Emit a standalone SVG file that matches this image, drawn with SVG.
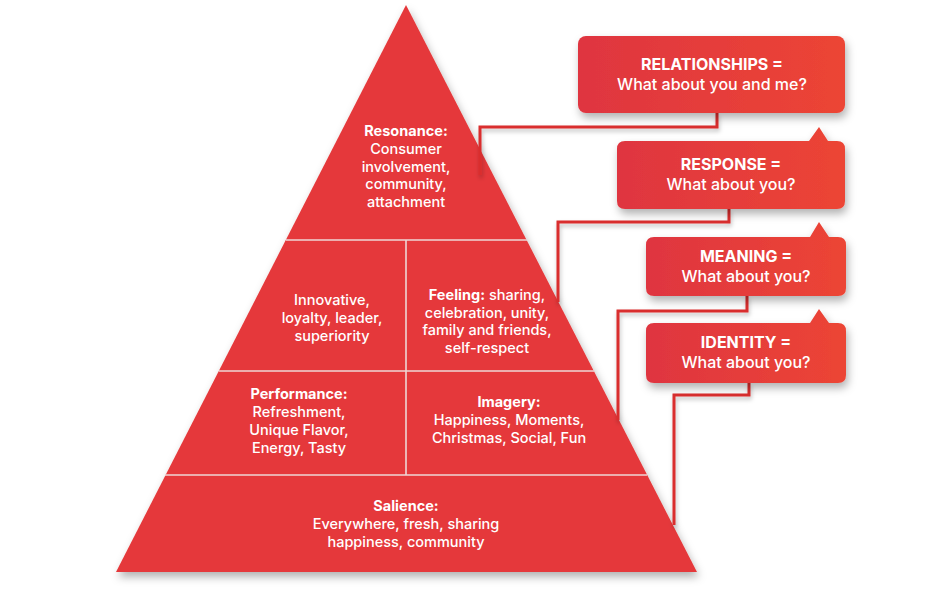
<svg xmlns="http://www.w3.org/2000/svg" width="927" height="593" viewBox="0 0 927 593">
  <defs>
    <filter id="shadow" x="-10%" y="-10%" width="130%" height="130%">
      <feDropShadow dx="2" dy="5" stdDeviation="4" flood-color="#000" flood-opacity="0.3"/>
    </filter>
    <filter id="lshadow" x="-20%" y="-20%" width="140%" height="140%">
      <feDropShadow dx="1" dy="3" stdDeviation="2" flood-color="#000" flood-opacity="0.25"/>
    </filter>
    <linearGradient id="boxgrad" x1="0" y1="0" x2="1" y2="0">
      <stop offset="0" stop-color="#df3540"/>
      <stop offset="1" stop-color="#ec4535"/>
    </linearGradient>
  </defs>
  <style>
    .pyr { fill: #e5393a; }
    .div { stroke: #eed6d6; stroke-width: 1.6; fill: none; }
    .box { fill: url(#boxgrad); filter: url(#shadow); }
    .conn { stroke: #d92f2f; stroke-width: 3; fill: none; filter: url(#lshadow); }
    text { font-family: Inter, "Noto Sans", "Liberation Sans", sans-serif; fill: #ffffff; text-anchor: middle; }
    .t { font-size: 14.5px; font-weight: 500; }
    .b { font-weight: 700; }
    .bt { font-size: 16px; font-weight: 700; }
    .bs { font-size: 16px; font-weight: 500; }
  </style>

  <g id="pyramid">
    <polygon class="pyr" points="406,5 697,572 116,572" filter="url(#shadow)"/>
    <line class="div" x1="286" y1="240" x2="527" y2="240"/>
    <line class="div" x1="219" y1="371" x2="594" y2="371"/>
    <line class="div" x1="165" y1="475" x2="647" y2="475"/>
    <line class="div" x1="406" y1="240" x2="406" y2="475"/>
  </g>

  <g id="connectors">
    <polyline class="conn" points="717,113 717,127 480,127 480,175"/>
    <polyline class="conn" points="729,209 729,222 558,222 558,302"/>
    <polyline class="conn" points="747,296 747,311 618,311 618,420"/>
    <polyline class="conn" points="749,383 749,395 674,395 674,525"/>
  </g>

  <g id="resonance">
    <text class="t" x="406" y="136"><tspan class="b">Resonance:</tspan></text>
    <text class="t" x="406" y="154">Consumer</text>
    <text class="t" x="406" y="172">involvement,</text>
    <text class="t" x="406" y="189">community,</text>
    <text class="t" x="406" y="207">attachment</text>
  </g>

  <g id="judgments">
    <text class="t" x="332" y="305">Innovative,</text>
    <text class="t" x="332" y="323">loyalty, leader,</text>
    <text class="t" x="332" y="341">superiority</text>
  </g>

  <g id="feelings">
    <text class="t" x="487" y="300"><tspan class="b">Feeling:</tspan> sharing,</text>
    <text class="t" x="487" y="318">celebration, unity,</text>
    <text class="t" x="487" y="335">family and friends,</text>
    <text class="t" x="487" y="353">self-respect</text>
  </g>

  <g id="performance">
    <text class="t" x="299" y="399"><tspan class="b">Performance:</tspan></text>
    <text class="t" x="299" y="417">Refreshment,</text>
    <text class="t" x="299" y="435">Unique Flavor,</text>
    <text class="t" x="299" y="453">Energy, Tasty</text>
  </g>

  <g id="imagery">
    <text class="t" x="509" y="407"><tspan class="b">Imagery:</tspan></text>
    <text class="t" x="509" y="425">Happiness, Moments,</text>
    <text class="t" x="509" y="443">Christmas, Social, Fun</text>
  </g>

  <g id="salience">
    <text class="t" x="406" y="511"><tspan class="b">Salience:</tspan></text>
    <text class="t" x="406" y="529">Everywhere, fresh, sharing</text>
    <text class="t" x="406" y="547">happiness, community</text>
  </g>

  <g id="relationships">
    <rect class="box" x="578" y="36" width="267" height="77" rx="8"/>
    <text class="bt" x="712" y="70">RELATIONSHIPS =</text>
    <text class="bs" x="712" y="90">What about you and me?</text>
  </g>

  <g id="response">
    <path class="box" d="M625,141 H809 L819,127 L828,141 H837 Q845,141 845,149 V201 Q845,209 837,209 H625 Q617,209 617,201 V149 Q617,141 625,141 Z"/>
    <text class="bt" x="731" y="170">RESPONSE =</text>
    <text class="bs" x="731" y="190">What about you?</text>
  </g>

  <g id="meaning">
    <path class="box" d="M654,237 H810 L819,222 L829,237 H838 Q846,237 846,245 V288 Q846,296 838,296 H654 Q646,296 646,288 V245 Q646,237 654,237 Z"/>
    <text class="bt" x="746" y="262">MEANING =</text>
    <text class="bs" x="746" y="282">What about you?</text>
  </g>

  <g id="identity">
    <path class="box" d="M654,323 H810 L819,309 L829,323 H838 Q846,323 846,331 V375 Q846,383 838,383 H654 Q646,383 646,375 V331 Q646,323 654,323 Z"/>
    <text class="bt" x="746" y="348">IDENTITY =</text>
    <text class="bs" x="746" y="368">What about you?</text>
  </g>
</svg>
